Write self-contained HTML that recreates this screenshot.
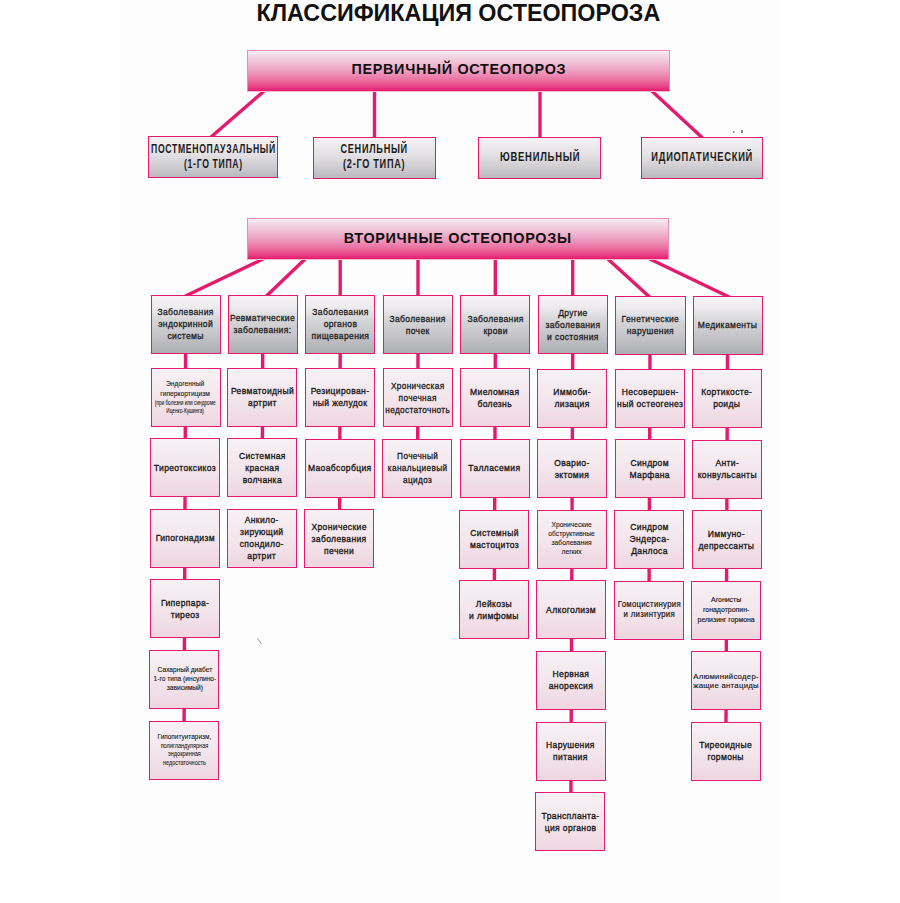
<!DOCTYPE html>
<html><head><meta charset="utf-8"><style>
*{margin:0;padding:0;box-sizing:border-box}
html,body{width:900px;height:903px;overflow:hidden;background:#fff;font-family:"Liberation Sans",sans-serif;color:#1a1a1a}
#title{position:absolute;left:256.5px;top:1px;width:460px;font-weight:bold;font-size:23.3px;line-height:24px;letter-spacing:0px;white-space:nowrap;color:#111}
.hdr,.prim,.cat,.leaf{position:absolute;z-index:2;display:flex;align-items:center;justify-content:center;text-align:center}
.t{white-space:nowrap}
.hdr{border:1px solid #ee8ab2;border-bottom-color:#f4b8d0;background:linear-gradient(#f5ecf1 0%,#f2dde7 10%,#f0bfd4 30%,#ee9ec0 50%,#ea76a6 70%,#e84688 88%,#e61a6e 100%)}
.hdr .t{margin-top:-4.4px;font-weight:bold;font-size:15px;letter-spacing:0.7px;transform:scaleX(0.96);color:#111}
.prim{border:1.5px solid #e61a6c;background:linear-gradient(#f6f2f4 0%,#e2e0e3 45%,#c9c8cc 80%,#b9b9bd 100%)}
.prim .t{margin-top:-1px;font-weight:bold;font-size:12.5px;line-height:15px;letter-spacing:1px}
.cat{border:1.5px solid #e61a6c;background:linear-gradient(#f6f3f5 0%,#eeecef 18%,#d6d6d9 42%,#c4c4c8 70%,#adaeb2 100%)}
.cat .t{font-size:9.6px;line-height:12px;transform:scaleX(0.89);letter-spacing:0.4px;color:#1a1a1a;-webkit-text-stroke:0.3px #1a1a1a}
.leaf{border:1.5px solid #e61a6c;background:linear-gradient(#f6f1f4 0%,#f3e6ec 50%,#efd6e1 100%)}
</style></head>
<body><svg width="900" height="903" style="position:absolute;left:0;top:0;z-index:1" stroke="#e61a6c"><line x1="265.27" y1="90.04" x2="208.73" y2="138.96" stroke-width="3.4"/><line x1="374.50" y1="89.00" x2="374.50" y2="140.00" stroke-width="3.4"/><line x1="540.00" y1="89.00" x2="540.00" y2="141.00" stroke-width="3.4"/><line x1="650.80" y1="89.96" x2="704.20" y2="139.54" stroke-width="3.4"/><line x1="263.71" y1="258.71" x2="182.79" y2="297.29" stroke-width="3.4"/><line x1="306.16" y1="257.92" x2="264.34" y2="298.08" stroke-width="3.4"/><line x1="340.20" y1="257.00" x2="340.20" y2="299.00" stroke-width="3.4"/><line x1="418.00" y1="257.00" x2="418.00" y2="299.00" stroke-width="3.4"/><line x1="495.30" y1="257.00" x2="495.30" y2="299.00" stroke-width="3.4"/><line x1="572.70" y1="257.00" x2="572.70" y2="299.00" stroke-width="3.4"/><line x1="606.78" y1="257.98" x2="651.22" y2="298.52" stroke-width="3.4"/><line x1="649.30" y1="258.70" x2="730.70" y2="297.80" stroke-width="3.4"/><line x1="185.61" y1="348.50" x2="184.09" y2="725.50" stroke-width="3.4"/><line x1="262.71" y1="348.67" x2="262.39" y2="443.30" stroke-width="3.4"/><line x1="340.21" y1="348.84" x2="339.59" y2="514.10" stroke-width="3.4"/><line x1="418.01" y1="349.01" x2="417.69" y2="443.70" stroke-width="3.4"/><line x1="495.31" y1="349.18" x2="494.39" y2="585.10" stroke-width="3.4"/><line x1="572.71" y1="349.35" x2="570.89" y2="797.10" stroke-width="3.4"/><line x1="650.01" y1="349.52" x2="649.09" y2="585.50" stroke-width="3.4"/><line x1="727.51" y1="349.69" x2="725.99" y2="726.90" stroke-width="3.4"/><line x1="257.5" y1="638.5" x2="261.5" y2="644" stroke="#888" stroke-width="0.9"/><rect x="733" y="131" width="1.5" height="2" fill="#999" stroke="none"/><rect x="741" y="130" width="2" height="3" fill="#888" stroke="none"/></svg><div style="position:absolute;left:120px;top:0;width:660px;height:903px;background:#fdfdfd"></div><div id="title">КЛАССИФИКАЦИЯ ОСТЕОПОРОЗА</div><div class="hdr" style="left:247.30px;top:49.60px;width:422.50px;height:42.20px"><div class="t">ПЕРВИЧНЫЙ ОСТЕОПОРОЗ</div></div><div class="hdr" style="left:247.30px;top:218.00px;width:421.50px;height:42.00px"><div class="t" style="margin-top:-2.6px">ВТОРИЧНЫЕ ОСТЕОПОРОЗЫ</div></div><div class="prim" style="left:148.20px;top:136.30px;width:129.50px;height:42.00px"><div class="t" style="transform:scaleX(0.69)">ПОСТМЕНОПАУЗАЛЬНЫЙ<br>(1-ГО ТИПА)</div></div><div class="prim" style="left:313.30px;top:136.80px;width:122.50px;height:42.00px"><div class="t" style="transform:scaleX(0.73)">СЕНИЛЬНЫЙ<br>(2-ГО ТИПА)</div></div><div class="prim" style="left:478.40px;top:137.20px;width:122.80px;height:41.60px"><div class="t" style="transform:scaleX(0.756)">ЮВЕНИЛЬНЫЙ</div></div><div class="prim" style="left:640.50px;top:137.20px;width:122.50px;height:41.80px"><div class="t" style="transform:scaleX(0.746)">ИДИОПАТИЧЕСКИЙ</div></div><div class="cat" style="left:151.00px;top:294.50px;width:70.20px;height:59.00px"><div class="t">Заболевания<br>эндокринной<br>системы</div></div><div class="cat" style="left:227.80px;top:294.67px;width:70.20px;height:59.00px"><div class="t">Ревматические<br>заболевания:</div></div><div class="cat" style="left:305.30px;top:294.84px;width:70.20px;height:59.00px"><div class="t">Заболевания<br>органов<br>пищеварения</div></div><div class="cat" style="left:383.00px;top:295.01px;width:70.20px;height:59.00px"><div class="t">Заболевания<br>почек</div></div><div class="cat" style="left:460.30px;top:295.18px;width:70.20px;height:59.00px"><div class="t">Заболевания<br>крови</div></div><div class="cat" style="left:537.60px;top:295.35px;width:70.20px;height:59.00px"><div class="t">Другие<br>заболевания<br>и состояния</div></div><div class="cat" style="left:615.40px;top:295.52px;width:70.20px;height:59.00px"><div class="t">Генетические<br>нарушения</div></div><div class="cat" style="left:692.60px;top:295.69px;width:70.20px;height:59.00px"><div class="t">Медикаменты</div></div><div class="leaf" style="left:150.50px;top:367.50px;width:70.20px;height:59.20px"><div class="t"><div style="font-size:7.8px;line-height:10.2px;transform:scaleX(0.86);-webkit-text-stroke:0.12px #1a1a1a;letter-spacing:0px">Эндогенный</div><div style="font-size:7.8px;line-height:10.2px;transform:scaleX(0.86);-webkit-text-stroke:0.12px #1a1a1a;letter-spacing:0px">гиперкортицизм</div><div style="font-size:6.4px;line-height:8.0px;transform:scaleX(0.74);-webkit-text-stroke:0.08px #1a1a1a;letter-spacing:0px">(при болезни или синдроме</div><div style="font-size:6.4px;line-height:8.0px;transform:scaleX(0.74);-webkit-text-stroke:0.08px #1a1a1a;letter-spacing:0px">Иценко-Кушинга)</div></div></div><div class="leaf" style="left:150.20px;top:438.10px;width:70.20px;height:59.20px"><div class="t"><div style="font-size:9.6px;line-height:12px;transform:scaleX(0.89);-webkit-text-stroke:0.35px #1a1a1a;letter-spacing:0.4px">Тиреотоксикоз</div></div></div><div class="leaf" style="left:149.90px;top:508.70px;width:70.20px;height:59.20px"><div class="t"><div style="font-size:9.6px;line-height:12px;transform:scaleX(0.89);-webkit-text-stroke:0.35px #1a1a1a;letter-spacing:0.4px">Гипогонадизм</div></div></div><div class="leaf" style="left:149.60px;top:579.30px;width:70.20px;height:59.20px"><div class="t"><div style="font-size:9.6px;line-height:12px;transform:scaleX(0.89);-webkit-text-stroke:0.35px #1a1a1a;letter-spacing:0.4px">Гиперпара-</div><div style="font-size:9.6px;line-height:12px;transform:scaleX(0.89);-webkit-text-stroke:0.35px #1a1a1a;letter-spacing:0.4px">тиреоз</div></div></div><div class="leaf" style="left:149.30px;top:649.90px;width:70.20px;height:59.20px"><div class="t"><div style="font-size:7.8px;line-height:8.9px;transform:scaleX(0.85);-webkit-text-stroke:0.14px #1a1a1a;letter-spacing:0px">Сахарный диабет</div><div style="font-size:7.8px;line-height:8.9px;transform:scaleX(0.85);-webkit-text-stroke:0.14px #1a1a1a;letter-spacing:0px">1-го типа (инсулино-</div><div style="font-size:7.8px;line-height:8.9px;transform:scaleX(0.85);-webkit-text-stroke:0.14px #1a1a1a;letter-spacing:0px">зависимый)</div></div></div><div class="leaf" style="left:149.00px;top:720.50px;width:70.20px;height:59.20px"><div class="t"><div style="font-size:7.8px;line-height:9.6px;transform:scaleX(0.83);-webkit-text-stroke:0.12px #1a1a1a;letter-spacing:0px">Гипопитуитаризм,</div><div style="font-size:6.4px;line-height:8.9px;transform:scaleX(0.86);-webkit-text-stroke:0.08px #1a1a1a;letter-spacing:0px">полигландулярная</div><div style="font-size:6.4px;line-height:8.9px;transform:scaleX(0.86);-webkit-text-stroke:0.08px #1a1a1a;letter-spacing:0px">эндокринная</div><div style="font-size:6.4px;line-height:8.9px;transform:scaleX(0.86);-webkit-text-stroke:0.08px #1a1a1a;letter-spacing:0px">недостаточность</div></div></div><div class="leaf" style="left:227.30px;top:367.70px;width:70.20px;height:59.20px"><div class="t"><div style="font-size:9.6px;line-height:12px;transform:scaleX(0.89);-webkit-text-stroke:0.35px #1a1a1a;letter-spacing:0.4px">Ревматоидный</div><div style="font-size:9.6px;line-height:12px;transform:scaleX(0.89);-webkit-text-stroke:0.35px #1a1a1a;letter-spacing:0.4px">артрит</div></div></div><div class="leaf" style="left:227.00px;top:438.30px;width:70.20px;height:59.20px"><div class="t"><div style="font-size:9.6px;line-height:12px;transform:scaleX(0.89);-webkit-text-stroke:0.35px #1a1a1a;letter-spacing:0.4px">Системная</div><div style="font-size:9.6px;line-height:12px;transform:scaleX(0.89);-webkit-text-stroke:0.35px #1a1a1a;letter-spacing:0.4px">красная</div><div style="font-size:9.6px;line-height:12px;transform:scaleX(0.89);-webkit-text-stroke:0.35px #1a1a1a;letter-spacing:0.4px">волчанка</div></div></div><div class="leaf" style="left:226.70px;top:508.90px;width:70.20px;height:59.20px"><div class="t"><div style="font-size:9.6px;line-height:12px;transform:scaleX(0.89);-webkit-text-stroke:0.35px #1a1a1a;letter-spacing:0.4px">Анкило-</div><div style="font-size:9.6px;line-height:12px;transform:scaleX(0.89);-webkit-text-stroke:0.35px #1a1a1a;letter-spacing:0.4px">зирующий</div><div style="font-size:9.6px;line-height:12px;transform:scaleX(0.89);-webkit-text-stroke:0.35px #1a1a1a;letter-spacing:0.4px">спондило-</div><div style="font-size:9.6px;line-height:12px;transform:scaleX(0.89);-webkit-text-stroke:0.35px #1a1a1a;letter-spacing:0.4px">артрит</div></div></div><div class="leaf" style="left:304.80px;top:367.90px;width:70.20px;height:59.20px"><div class="t"><div style="font-size:9.6px;line-height:12px;transform:scaleX(0.89);-webkit-text-stroke:0.35px #1a1a1a;letter-spacing:0.4px">Резицирован-</div><div style="font-size:9.6px;line-height:12px;transform:scaleX(0.89);-webkit-text-stroke:0.35px #1a1a1a;letter-spacing:0.4px">ный желудок</div></div></div><div class="leaf" style="left:304.50px;top:438.50px;width:70.20px;height:59.20px"><div class="t"><div style="font-size:9.6px;line-height:12px;transform:scaleX(0.89);-webkit-text-stroke:0.35px #1a1a1a;letter-spacing:0.4px">Маоабсорбция</div></div></div><div class="leaf" style="left:304.20px;top:509.10px;width:70.20px;height:59.20px"><div class="t"><div style="font-size:9.6px;line-height:12px;transform:scaleX(0.89);-webkit-text-stroke:0.35px #1a1a1a;letter-spacing:0.4px">Хронические</div><div style="font-size:9.6px;line-height:12px;transform:scaleX(0.89);-webkit-text-stroke:0.35px #1a1a1a;letter-spacing:0.4px">заболевания</div><div style="font-size:9.6px;line-height:12px;transform:scaleX(0.89);-webkit-text-stroke:0.35px #1a1a1a;letter-spacing:0.4px">печени</div></div></div><div class="leaf" style="left:382.50px;top:368.10px;width:70.20px;height:59.20px"><div class="t"><div style="font-size:9.6px;line-height:12px;transform:scaleX(0.86);-webkit-text-stroke:0.3px #1a1a1a;letter-spacing:0.4px">Хроническая</div><div style="font-size:9.6px;line-height:12px;transform:scaleX(0.86);-webkit-text-stroke:0.3px #1a1a1a;letter-spacing:0.4px">почечная</div><div style="font-size:9.6px;line-height:12px;transform:scaleX(0.86);-webkit-text-stroke:0.3px #1a1a1a;letter-spacing:0.4px">недостаточноть</div></div></div><div class="leaf" style="left:382.20px;top:438.70px;width:70.20px;height:59.20px"><div class="t"><div style="font-size:9.6px;line-height:12px;transform:scaleX(0.86);-webkit-text-stroke:0.3px #1a1a1a;letter-spacing:0.4px">Почечный</div><div style="font-size:9.6px;line-height:12px;transform:scaleX(0.86);-webkit-text-stroke:0.3px #1a1a1a;letter-spacing:0.4px">канальциевый</div><div style="font-size:9.6px;line-height:12px;transform:scaleX(0.86);-webkit-text-stroke:0.3px #1a1a1a;letter-spacing:0.4px">ацидоз</div></div></div><div class="leaf" style="left:459.80px;top:368.30px;width:70.20px;height:59.20px"><div class="t"><div style="font-size:9.6px;line-height:12px;transform:scaleX(0.89);-webkit-text-stroke:0.35px #1a1a1a;letter-spacing:0.4px">Миеломная</div><div style="font-size:9.6px;line-height:12px;transform:scaleX(0.89);-webkit-text-stroke:0.35px #1a1a1a;letter-spacing:0.4px">болезнь</div></div></div><div class="leaf" style="left:459.50px;top:438.90px;width:70.20px;height:59.20px"><div class="t"><div style="font-size:9.6px;line-height:12px;transform:scaleX(0.89);-webkit-text-stroke:0.35px #1a1a1a;letter-spacing:0.4px">Талласемия</div></div></div><div class="leaf" style="left:459.20px;top:509.50px;width:70.20px;height:59.20px"><div class="t"><div style="font-size:9.6px;line-height:12px;transform:scaleX(0.89);-webkit-text-stroke:0.35px #1a1a1a;letter-spacing:0.4px">Системный</div><div style="font-size:9.6px;line-height:12px;transform:scaleX(0.89);-webkit-text-stroke:0.35px #1a1a1a;letter-spacing:0.4px">мастоцитоз</div></div></div><div class="leaf" style="left:458.90px;top:580.10px;width:70.20px;height:59.20px"><div class="t"><div style="font-size:9.6px;line-height:12px;transform:scaleX(0.89);-webkit-text-stroke:0.35px #1a1a1a;letter-spacing:0.4px">Лейкозы</div><div style="font-size:9.6px;line-height:12px;transform:scaleX(0.89);-webkit-text-stroke:0.35px #1a1a1a;letter-spacing:0.4px">и лимфомы</div></div></div><div class="leaf" style="left:537.10px;top:368.50px;width:70.20px;height:59.20px"><div class="t"><div style="font-size:9.6px;line-height:12px;transform:scaleX(0.89);-webkit-text-stroke:0.35px #1a1a1a;letter-spacing:0.4px">Иммоби-</div><div style="font-size:9.6px;line-height:12px;transform:scaleX(0.89);-webkit-text-stroke:0.35px #1a1a1a;letter-spacing:0.4px">лизация</div></div></div><div class="leaf" style="left:536.80px;top:439.10px;width:70.20px;height:59.20px"><div class="t"><div style="font-size:9.6px;line-height:12px;transform:scaleX(0.89);-webkit-text-stroke:0.35px #1a1a1a;letter-spacing:0.4px">Овариo-</div><div style="font-size:9.6px;line-height:12px;transform:scaleX(0.89);-webkit-text-stroke:0.35px #1a1a1a;letter-spacing:0.4px">эктомия</div></div></div><div class="leaf" style="left:536.50px;top:509.70px;width:70.20px;height:59.20px"><div class="t"><div style="font-size:6.7px;line-height:8.9px;transform:scaleX(1.0);-webkit-text-stroke:0.1px #1a1a1a;letter-spacing:0px">Хронические</div><div style="font-size:6.7px;line-height:8.9px;transform:scaleX(1.0);-webkit-text-stroke:0.1px #1a1a1a;letter-spacing:0px">обструктивные</div><div style="font-size:6.7px;line-height:8.9px;transform:scaleX(1.0);-webkit-text-stroke:0.1px #1a1a1a;letter-spacing:0px">заболевания</div><div style="font-size:6.7px;line-height:8.9px;transform:scaleX(1.0);-webkit-text-stroke:0.1px #1a1a1a;letter-spacing:0px">легких</div></div></div><div class="leaf" style="left:536.20px;top:580.30px;width:70.20px;height:59.20px"><div class="t"><div style="font-size:9.6px;line-height:12px;transform:scaleX(0.89);-webkit-text-stroke:0.35px #1a1a1a;letter-spacing:0.4px">Алкоголизм</div></div></div><div class="leaf" style="left:535.90px;top:650.90px;width:70.20px;height:59.20px"><div class="t"><div style="font-size:9.6px;line-height:12px;transform:scaleX(0.89);-webkit-text-stroke:0.35px #1a1a1a;letter-spacing:0.4px">Нервная</div><div style="font-size:9.6px;line-height:12px;transform:scaleX(0.89);-webkit-text-stroke:0.35px #1a1a1a;letter-spacing:0.4px">анорексия</div></div></div><div class="leaf" style="left:535.60px;top:721.50px;width:70.20px;height:59.20px"><div class="t"><div style="font-size:9.6px;line-height:12px;transform:scaleX(0.89);-webkit-text-stroke:0.35px #1a1a1a;letter-spacing:0.4px">Нарушения</div><div style="font-size:9.6px;line-height:12px;transform:scaleX(0.89);-webkit-text-stroke:0.35px #1a1a1a;letter-spacing:0.4px">питания</div></div></div><div class="leaf" style="left:535.30px;top:792.10px;width:70.20px;height:59.20px"><div class="t"><div style="font-size:9.6px;line-height:12px;transform:scaleX(0.89);-webkit-text-stroke:0.35px #1a1a1a;letter-spacing:0.4px">Транспланта-</div><div style="font-size:9.6px;line-height:12px;transform:scaleX(0.89);-webkit-text-stroke:0.35px #1a1a1a;letter-spacing:0.4px">ция органов</div></div></div><div class="leaf" style="left:614.90px;top:368.70px;width:70.20px;height:59.20px"><div class="t"><div style="font-size:9.6px;line-height:12px;transform:scaleX(0.89);-webkit-text-stroke:0.35px #1a1a1a;letter-spacing:0.4px">Несовершен-</div><div style="font-size:9.6px;line-height:12px;transform:scaleX(0.89);-webkit-text-stroke:0.35px #1a1a1a;letter-spacing:0.4px">ный остеогенез</div></div></div><div class="leaf" style="left:614.60px;top:439.30px;width:70.20px;height:59.20px"><div class="t"><div style="font-size:9.6px;line-height:12px;transform:scaleX(0.89);-webkit-text-stroke:0.35px #1a1a1a;letter-spacing:0.4px">Синдром</div><div style="font-size:9.6px;line-height:12px;transform:scaleX(0.89);-webkit-text-stroke:0.35px #1a1a1a;letter-spacing:0.4px">Марфана</div></div></div><div class="leaf" style="left:614.30px;top:509.90px;width:70.20px;height:59.20px"><div class="t"><div style="font-size:9.6px;line-height:12px;transform:scaleX(0.89);-webkit-text-stroke:0.35px #1a1a1a;letter-spacing:0.4px">Синдром</div><div style="font-size:9.6px;line-height:12px;transform:scaleX(0.89);-webkit-text-stroke:0.35px #1a1a1a;letter-spacing:0.4px">Эндерса-</div><div style="font-size:9.6px;line-height:12px;transform:scaleX(0.89);-webkit-text-stroke:0.35px #1a1a1a;letter-spacing:0.4px">Данлоса</div></div></div><div class="leaf" style="left:614.00px;top:580.50px;width:70.20px;height:59.20px"><div class="t"><div style="font-size:8.2px;line-height:10.6px;transform:scaleX(0.95);-webkit-text-stroke:0.2px #1a1a1a;letter-spacing:0.3px">Гомоцистинурия</div><div style="font-size:8.2px;line-height:10.6px;transform:scaleX(0.95);-webkit-text-stroke:0.2px #1a1a1a;letter-spacing:0.3px">и лизинтурия</div></div></div><div class="leaf" style="left:692.10px;top:368.90px;width:70.20px;height:59.20px"><div class="t"><div style="font-size:9.6px;line-height:12px;transform:scaleX(0.89);-webkit-text-stroke:0.35px #1a1a1a;letter-spacing:0.4px">Кортикосте-</div><div style="font-size:9.6px;line-height:12px;transform:scaleX(0.89);-webkit-text-stroke:0.35px #1a1a1a;letter-spacing:0.4px">роиды</div></div></div><div class="leaf" style="left:691.80px;top:439.50px;width:70.20px;height:59.20px"><div class="t"><div style="font-size:9.6px;line-height:12px;transform:scaleX(0.89);-webkit-text-stroke:0.35px #1a1a1a;letter-spacing:0.4px">Анти-</div><div style="font-size:9.6px;line-height:12px;transform:scaleX(0.89);-webkit-text-stroke:0.35px #1a1a1a;letter-spacing:0.4px">конвульсанты</div></div></div><div class="leaf" style="left:691.50px;top:510.10px;width:70.20px;height:59.20px"><div class="t"><div style="font-size:9.6px;line-height:12px;transform:scaleX(0.89);-webkit-text-stroke:0.35px #1a1a1a;letter-spacing:0.4px">Иммуно-</div><div style="font-size:9.6px;line-height:12px;transform:scaleX(0.89);-webkit-text-stroke:0.35px #1a1a1a;letter-spacing:0.4px">депрессанты</div></div></div><div class="leaf" style="left:691.20px;top:580.70px;width:70.20px;height:59.20px"><div class="t"><div style="font-size:7.8px;line-height:10.3px;transform:scaleX(0.89);-webkit-text-stroke:0.18px #1a1a1a;letter-spacing:0px">Агонисты</div><div style="font-size:7.8px;line-height:10.3px;transform:scaleX(0.89);-webkit-text-stroke:0.18px #1a1a1a;letter-spacing:0px">гонадотропин-</div><div style="font-size:7.8px;line-height:10.3px;transform:scaleX(0.89);-webkit-text-stroke:0.18px #1a1a1a;letter-spacing:0px">релизинг гормона</div></div></div><div class="leaf" style="left:690.90px;top:651.30px;width:70.20px;height:59.20px"><div class="t"><div style="font-size:8.0px;line-height:9.3px;transform:scaleX(0.965);-webkit-text-stroke:0.16px #1a1a1a;letter-spacing:0.3px">Алюминийсодер-</div><div style="font-size:8.0px;line-height:9.3px;transform:scaleX(0.965);-webkit-text-stroke:0.16px #1a1a1a;letter-spacing:0.3px">жащие антациды</div></div></div><div class="leaf" style="left:690.60px;top:721.90px;width:70.20px;height:59.20px"><div class="t"><div style="font-size:9.6px;line-height:12px;transform:scaleX(0.89);-webkit-text-stroke:0.35px #1a1a1a;letter-spacing:0.4px">Тиреоидные</div><div style="font-size:9.6px;line-height:12px;transform:scaleX(0.89);-webkit-text-stroke:0.35px #1a1a1a;letter-spacing:0.4px">гормоны</div></div></div></body></html>
